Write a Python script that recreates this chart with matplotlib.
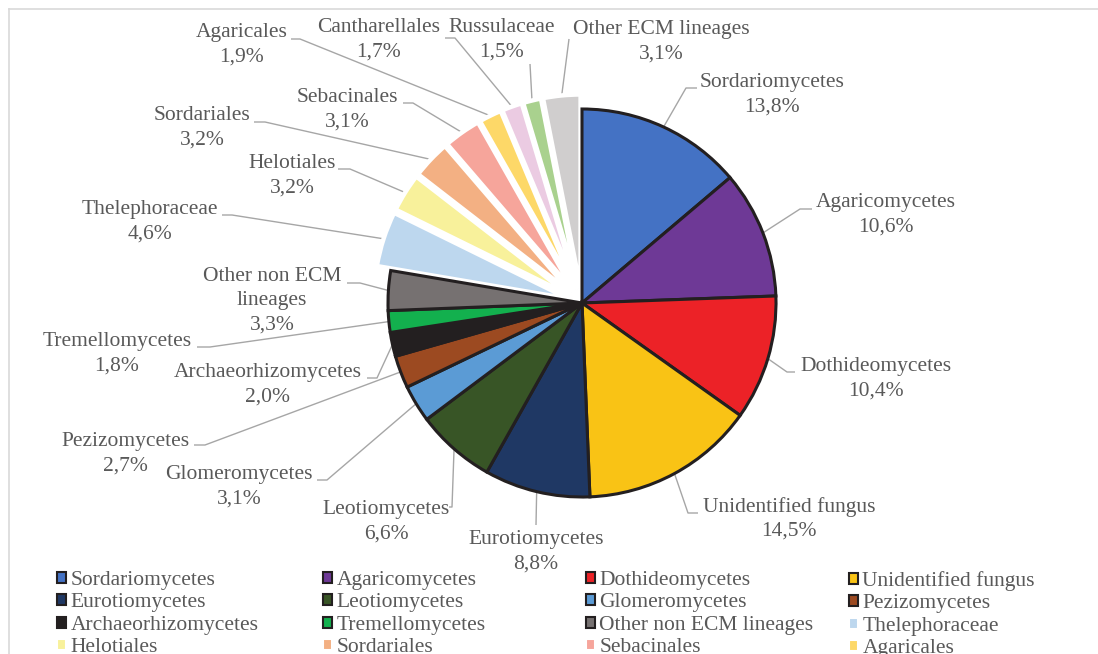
import matplotlib
matplotlib.use("Agg")
import matplotlib.pyplot as plt
from matplotlib.patches import Patch
from matplotlib.lines import Line2D
import numpy as np

plt.rcParams['font.family'] = ['Liberation Serif', 'DejaVu Serif']

# ---------------- data ----------------
categories = ["Sordariomycetes", "Agaricomycetes", "Dothideomycetes", "Unidentified fungus",
              "Eurotiomycetes", "Leotiomycetes", "Glomeromycetes", "Pezizomycetes",
              "Archaeorhizomycetes", "Tremellomycetes", "Other non ECM lineages",
              "Thelephoraceae", "Helotiales", "Sordariales", "Sebacinales", "Agaricales",
              "Cantharellales", "Russulaceae", "Other ECM lineages"]
values = [13.8, 10.6, 10.4, 14.5, 8.8, 6.6, 3.1, 2.7, 2.0, 1.8, 3.3,
          4.6, 3.2, 3.2, 3.1, 1.9, 1.7, 1.5, 3.1]
ecm = [False] * 11 + [True] * 8

# ---------------- styles ----------------
colors = ["#4472C4", "#6E3996", "#EC2227", "#F9C315", "#1F3864", "#385526", "#5B9BD5",
          "#9C4A21", "#231F20", "#13B04E", "#767171",
          "#BDD7EE", "#F8F19B", "#F3B083", "#F6A59B", "#FDD868", "#EBCBE2", "#A9D18E",
          "#D0CECE"]
TEXT = "#595959"
LEAD = "#A6A6A6"
EXPLODE = 0.075

W, H = 1098, 654
CX, CY, R = 582, 303, 194

# label layout (pixel centre of text block), leader start and elbow (pixels)
label_pos = [(772, 95), (886, 215), (876, 379), (789, 519), (536, 552), (386, 522),
             (239, 487), (125, 454), (268, 385), (117, 354), (272, 301),
             (150, 222), (292, 176), (202, 128), (347, 110), (242, 45),
             (379, 40), (502, 40), (661, 42)]
lead_start = [(697, 88), (812, 209), (795, 372), (698, 513), (536, 525), (449, 507),
              (317, 480), (194, 445), (367, 378), (197, 347), (347, 283),
              (222, 215), (338, 169), (254, 122), (403, 103), (291, 39),
              (445, 38), (530, 64), (569, 39)]
lead_elbow = [(686, 88), (800, 209), (787, 372), (688, 513), None, (452, 507),
              (327, 480), (205, 445), (377, 378), (210, 347), (360, 283),
              (232, 215), (350, 169), (265, 122), (413, 103), (300, 39),
              (455, 38), None, None]


def P(x, y):
    return ((x - CX) / R, (CY - y) / R)


fig = plt.figure(figsize=(W / 100, H / 100), dpi=100)
ax = fig.add_axes([0, 0, 1, 1])

explode = [EXPLODE if e else 0 for e in ecm]
wedges, _ = ax.pie(values, colors=colors, startangle=90, counterclock=False,
                   explode=explode, radius=1, center=(0, 0),
                   wedgeprops=dict(linewidth=2.2, edgecolor="#231F20"))
for w, e in zip(wedges, ecm):
    if e:
        w.set_edgecolor("white")
        w.set_linewidth(3.2)
        w.set_zorder(2)
    else:
        w.set_zorder(3)

ax.set_xlim(-CX / R, (W - CX) / R)
ax.set_ylim((CY - H) / R, CY / R)
ax.set_aspect('auto')
ax.axis('off')

# labels and leader lines
total = sum(values)
cum = 0.0
for i, (name, v) in enumerate(zip(categories, values)):
    mid = cum + v / 2
    cum += v
    ang = np.deg2rad(90 - 360 * mid / total)
    r = 1 + explode[i]
    end = (r * np.cos(ang), r * np.sin(ang))
    pts = [P(*lead_start[i])]
    if lead_elbow[i] is not None:
        pts.append(P(*lead_elbow[i]))
    pts.append(end)
    xs, ys = zip(*pts)
    ax.plot(xs, ys, color=LEAD, lw=1.0, zorder=1, solid_capstyle='butt')
    disp = "Other non ECM\nlineages" if name == "Other non ECM lineages" else name
    pct = f"{v:.1f}".replace(".", ",") + "%"
    lx, ly = P(*label_pos[i])
    ax.text(lx, ly, f"{disp}\n{pct}", ha="center", va="center", fontsize=15.5,
            color=TEXT, linespacing=1.36, zorder=5)

# chart-area frame (cropped on the right and bottom)
fig.add_artist(Line2D([9 / W, 9 / W], [1 - 9 / H, -0.1], transform=fig.transFigure,
                      color="#D9D9D9", lw=1.2))
fig.add_artist(Line2D([9 / W, 1.1], [1 - 9 / H, 1 - 9 / H], transform=fig.transFigure,
                      color="#D9D9D9", lw=1.2))

# legend: 4 columns, row-major order (last row falls below the picture edge)
ncol = 4
col_x = [57, 323, 586, 849]
top_y = 571
for c in range(ncol):
    idx = list(range(c, len(categories), ncol))
    handles = [Patch(facecolor=colors[i], edgecolor=("white" if ecm[i] else "#231F20"),
                     linewidth=1.5) for i in idx]
    labels = [categories[i] for i in idx]
    fig.legend(handles, labels, loc="upper left",
               bbox_to_anchor=(col_x[c] / W, 1 - top_y / H),
               bbox_transform=fig.transFigure, frameon=False, borderpad=0,
               borderaxespad=0, fontsize=15.5, labelcolor=TEXT,
               handlelength=0.42, handleheight=0.42, handletextpad=0.2,
               labelspacing=0.16)

fig.savefig("out.png", dpi=100)
